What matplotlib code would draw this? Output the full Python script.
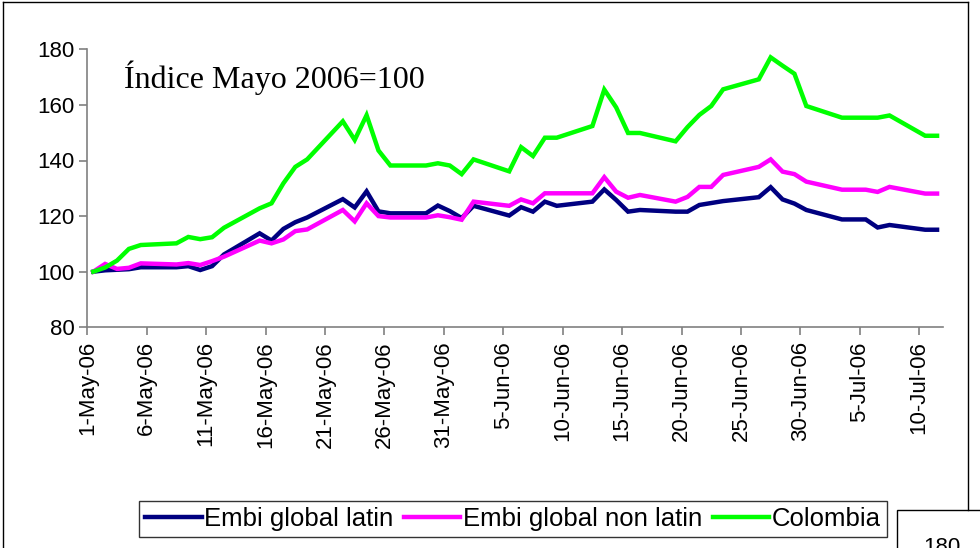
import numpy as np
import pandas as pd
import matplotlib
matplotlib.use('Agg')
import matplotlib.pyplot as plt
from matplotlib.patches import Rectangle
from matplotlib.lines import Line2D

# business days shown in the chart
dates = ['2006-05-01', '2006-05-02', '2006-05-03', '2006-05-04', '2006-05-05',
         '2006-05-08', '2006-05-09', '2006-05-10', '2006-05-11', '2006-05-12',
         '2006-05-15', '2006-05-16', '2006-05-17', '2006-05-18', '2006-05-19',
         '2006-05-22', '2006-05-23', '2006-05-24', '2006-05-25', '2006-05-26',
         '2006-05-29', '2006-05-30', '2006-05-31', '2006-06-01', '2006-06-02',
         '2006-06-05', '2006-06-06', '2006-06-07', '2006-06-08', '2006-06-09',
         '2006-06-12', '2006-06-13', '2006-06-14', '2006-06-15', '2006-06-16',
         '2006-06-19', '2006-06-20', '2006-06-21', '2006-06-22', '2006-06-23',
         '2006-06-26', '2006-06-27', '2006-06-28', '2006-06-29', '2006-06-30',
         '2006-07-03', '2006-07-04', '2006-07-05', '2006-07-06', '2006-07-07',
         '2006-07-10', '2006-07-11']

embi_latin = [100.0, 100.5, 100.7, 100.9, 101.6,
              101.6, 102.0, 100.6, 102.0, 106.2,
              113.8, 111.2, 115.4, 117.8, 119.5,
              126.1, 123.1, 128.9, 121.7, 121.0,
              121.0, 123.8, 121.8, 119.3, 123.7,
              120.2, 123.2, 121.6, 125.2, 123.7,
              125.2, 129.6, 125.8, 121.6, 122.2,
              121.6, 121.6, 124.0, 124.7, 125.4,
              126.8, 130.4, 126.0, 124.5, 122.2,
              118.8, 118.8, 118.8, 115.9, 116.8,
              115.1, 115.1]

embi_non_latin = [100.0, 102.8, 101.0, 101.4, 103.0,
                  102.6, 103.1, 102.4, 103.8, 105.4,
                  111.2, 110.2, 111.6, 114.6, 115.2,
                  122.2, 118.1, 124.6, 120.0, 119.5,
                  119.5, 120.3, 119.6, 118.7, 125.2,
                  123.7, 126.0, 124.6, 128.2, 128.2,
                  128.2, 134.0, 128.8, 126.6, 127.6,
                  125.2, 126.9, 130.5, 130.5, 134.8,
                  137.7, 140.4, 136.0, 135.1, 132.4,
                  129.5, 129.5, 129.5, 128.7, 130.5,
                  128.1, 128.1]

colombia = [100.0, 101.5, 104.0, 108.2, 109.6,
            110.2, 112.5, 111.7, 112.4, 115.8,
            122.8, 124.6, 131.8, 137.7, 140.4,
            154.1, 147.4, 156.3, 143.6, 138.2,
            138.2, 139.0, 138.2, 135.1, 140.4,
            136.1, 144.8, 141.6, 148.2, 148.2,
            152.4, 165.5, 159.1, 149.9, 149.9,
            146.9, 152.0, 156.4, 159.6, 165.6,
            169.2, 177.1, 174.1, 171.2, 159.6,
            155.4, 155.4, 155.4, 155.4, 156.2,
            148.9, 148.9]

labels = ['Embi global latin', 'Embi global non latin', 'Colombia']
colors = ['#000080', '#FF00FF', '#00FF00']

dt = pd.to_datetime(dates)
start = dt[0]
x = np.array([(d - start).days for d in dt]) + 0.5   # Excel plots between ticks

tick_days = np.arange(0, 71, 5)
tick_labels = [(start + pd.Timedelta(days=int(k))).strftime('%d-%b-06').lstrip('0')
               for k in tick_days]

W, H = 980, 548
fig = plt.figure(figsize=(W / 100, H / 100), dpi=100)
ax = fig.add_axes([87.3 / W, 1 - 327.3 / H, (943 - 87.3) / W, (327.3 - 49.3) / H])

for ys, c, lab in zip([embi_latin, embi_non_latin, colombia], colors, labels):
    ax.plot(x, ys, color=c, lw=3.2, label=lab, solid_joinstyle='miter')

ax.set_xlim(0, 72)
ax.set_ylim(80, 180)
ax.set_yticks(range(80, 181, 20))
ax.set_xticks(tick_days)
ax.set_xticklabels(tick_labels, rotation=90, family='Liberation Sans', fontsize=16)
for t in ax.get_yticklabels():
    t.set_family('Liberation Sans')
    t.set_fontsize(16)
for s in ['top', 'right']:
    ax.spines[s].set_visible(False)
for s in ['left', 'bottom']:
    ax.spines[s].set_color('#808080')
    ax.spines[s].set_linewidth(1.2)
ax.tick_params(axis='both', direction='out', length=6, width=1.2, color='#808080',
               labelcolor='black')
ax.tick_params(axis='y', pad=3)
ax.tick_params(axis='x', pad=4)

fig.text(124 / W, 1 - 88 / H, 'Índice Mayo 2006=100', family='Liberation Serif',
         fontsize=23, va='baseline', ha='left')

leg = fig.legend(loc='center', bbox_to_anchor=((140 + 886) / 2 / W, 1 - 519 / H),
                 ncol=3, prop={'family': 'Liberation Sans', 'size': 18.5},
                 frameon=True, fancybox=False, edgecolor='black',
                 handlelength=2.2, handletextpad=0.1, columnspacing=0.4,
                 borderpad=0.25)
leg.get_frame().set_linewidth(1.0)

# outer chart frame
fig.add_artist(Line2D([3 / W, 3 / W], [0, 1 - 2 / H], color='black', lw=1.0))
fig.add_artist(Line2D([3 / W, 968 / W], [1 - 2 / H, 1 - 2 / H], color='black', lw=1.0))
fig.add_artist(Line2D([968 / W, 968 / W], [1 - 2 / H, 1 - 510 / H], color='black', lw=1.0))

# neighbouring chart peeking in at the bottom right
fig.add_artist(Rectangle((897 / W, -0.05), 0.2, 0.05 + (548 - 510) / H,
                         transform=fig.transFigure, facecolor='white',
                         edgecolor='black', lw=1.0))
fig.text(942 / W, 1 - 537 / H, '180', family='Liberation Sans', fontsize=16,
         ha='center', va='top')

fig.savefig('out.png', dpi=100)
